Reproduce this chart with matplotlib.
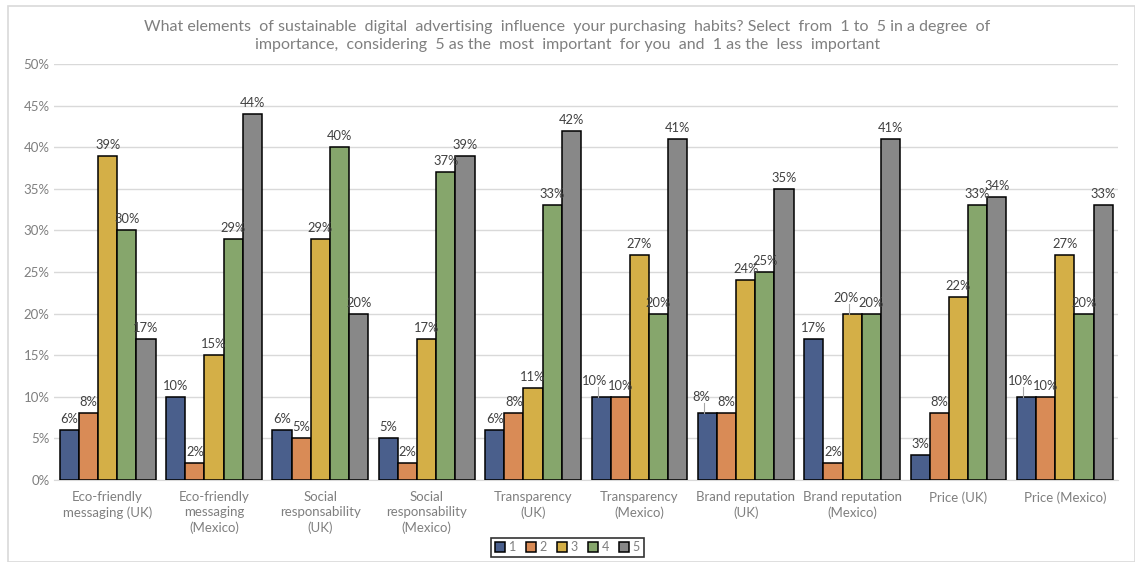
import numpy as np
import matplotlib.pyplot as plt
from matplotlib.patches import Rectangle
from matplotlib.ticker import PercentFormatter

plt.rcParams['font.family'] = ['Lato', 'DejaVu Sans']

categories = ['Eco-friendly\nmessaging (UK)', 'Eco-friendly\nmessaging\n(Mexico)',
              'Social\nresponsability\n(UK)', 'Social\nresponsability\n(Mexico)',
              'Transparency\n(UK)', 'Transparency\n(Mexico)', 'Brand reputation\n(UK)',
              'Brand reputation\n(Mexico)', 'Price (UK)', 'Price (Mexico)']
series_names = ['1', '2', '3', '4', '5']
s1 = [6, 10, 6, 5, 6, 10, 8, 17, 3, 10]
s2 = [8, 2, 5, 2, 8, 10, 8, 2, 8, 10]
s3 = [39, 15, 29, 17, 11, 27, 24, 20, 22, 27]
s4 = [30, 29, 40, 37, 33, 20, 25, 20, 33, 20]
s5 = [17, 44, 20, 39, 42, 41, 35, 41, 34, 33]
series = [s1, s2, s3, s4, s5]
colors = ['#4a5f8c', '#d98b56', '#d4af47', '#86a66c', '#888888']

title = ('What elements  of sustainable  digital  advertising  influence  your purchasing  habits? Select  from  1 to  5 in a degree  of\n'
         'importance,  considering  5 as the  most  important  for you  and  1 as the  less  important')

fig = plt.figure(figsize=[11.35, 5.62], dpi=100)
fig.patches.append(Rectangle((0.007, 0.0), 0.993, 0.99, transform=fig.transFigure,
                             fill=False, edgecolor='#d9d9d9', lw=1.2))
ax = fig.add_axes([0.048, 0.146, 0.937, 0.74])

x = np.arange(len(categories))
w = 0.18
for i, (vals, c) in enumerate(zip(series, colors)):
    pos = x + (i - 2) * w
    ax.bar(pos, np.array(vals) / 100, w, color=c, edgecolor='black', linewidth=1.1,
           label=series_names[i], zorder=3)
    for j, (p, v) in enumerate(zip(pos, vals)):
        top = v / 100
        # equal neighbour on the right: lift this label, Excel-style leader line
        if i < 4 and series[i + 1][j] == v:
            ax.plot([p - 0.03, p - 0.03], [top, top + 0.012], color='#a6a6a6', lw=0.8, zorder=4)
            ax.text(p - 0.06, top + 0.012, f'{v}%', ha='center', va='bottom',
                    fontsize=9.3, color='#404040', zorder=4)
        else:
            ax.text(p, top + 0.006, f'{v}%', ha='center', va='bottom',
                    fontsize=9.3, color='#404040', zorder=4)

ax.set_ylim(0, 0.5)
ax.set_xlim(-0.5, len(categories) - 0.5)
ax.set_yticks(np.arange(0, 0.51, 0.05))
ax.yaxis.set_major_formatter(PercentFormatter(1.0, decimals=0))
ax.grid(axis='y', color='#d9d9d9', lw=1, zorder=0)
for s in ['top', 'right', 'left']:
    ax.spines[s].set_visible(False)
ax.spines['bottom'].set_color('#d9d9d9')
ax.tick_params(axis='both', length=0, colors='#7f7f7f', labelsize=9.5)
ax.tick_params(axis='x', pad=8)
ax.set_xticks(x)
ax.set_xticklabels(categories, va='top', linespacing=1.3)

fig.text(0.5, 0.965, title, ha='center', va='top', fontsize=11.5, color='#7f7f7f',
         linespacing=1.4)

leg = ax.legend(loc='center', bbox_to_anchor=(0.5, 0.026), bbox_transform=fig.transFigure,
                ncol=5, frameon=True, fontsize=9, handlelength=0.8, handleheight=0.8,
                handletextpad=0.3, columnspacing=0.8, borderpad=0.3, fancybox=False,
                labelcolor='#7f7f7f')
leg.get_frame().set_edgecolor('black')
leg.get_frame().set_linewidth(1.2)

fig.savefig('out.png', dpi=100)
